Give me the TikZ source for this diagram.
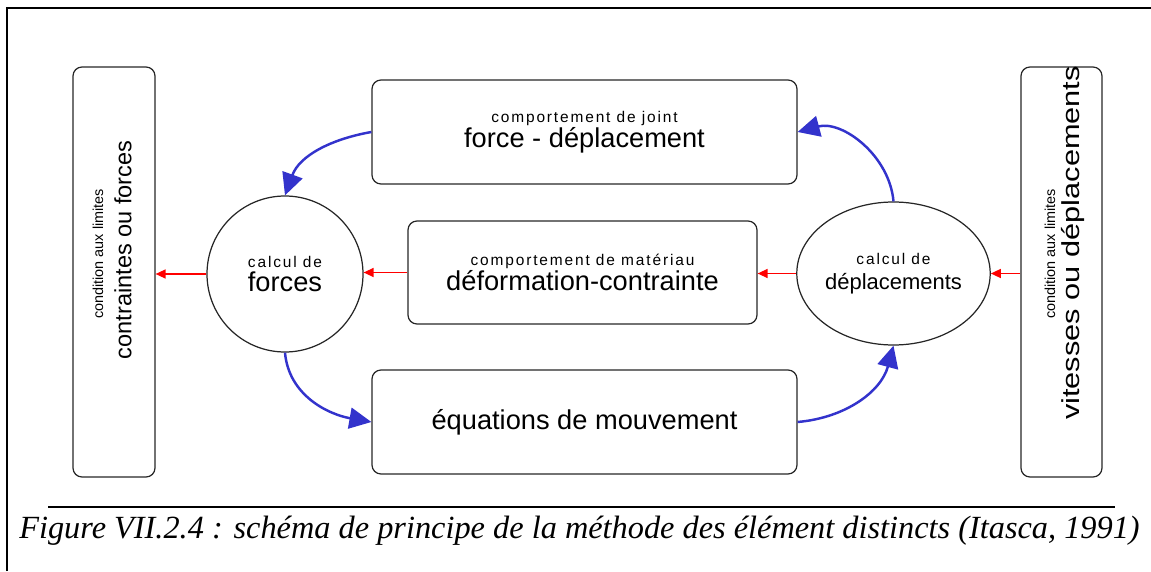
\documentclass[tikz,border=0pt]{standalone}
\usepackage{fontspec}
\setmainfont{Liberation Sans}
\newfontfamily\capfont{Liberation Serif}
\newfontfamily\smallfont[LetterSpace=12]{Liberation Sans}
\usetikzlibrary{arrows.meta, shapes.geometric}
\definecolor{flowblue}{RGB}{51,51,204}
\newcommand{\petit}[1]{{\smallfont\fontsize{8.8}{10}\selectfont #1}}
\newcommand{\grand}[1]{{\fontsize{15.5}{18}\selectfont #1}}

\begin{document}
\begin{tikzpicture}[>={Triangle[length=4.4mm,width=4.2mm]}, line width=0.7pt,
  box/.style={draw=black!85, rounded corners=0.18cm, align=center, inner sep=0pt,
    font=\fontsize{15.5}{14}\selectfont},
  rond/.style={draw=black!85, circle, minimum size=3.12cm, inner sep=0pt, align=center,
    font=\fontsize{15.5}{14}\selectfont},
  flow/.style={->, draw=flowblue, line width=1.4pt},
  feed/.style={-{Triangle[length=2mm,width=1.8mm]}, draw=red, line width=0.8pt}]
  \useasboundingbox (0,0) rectangle (23.02,11.42);
  % ===== cadre =====
  \draw[line width=0.8pt] (0.14,0) -- (0.14,11.26) -- (23.02,11.26);
  % ===== conditions aux limites =====
  \node[box, minimum width=1.64cm, minimum height=8.2cm] (limforces) at (2.28,5.98) {};
  \node[rotate=90, font=\fontsize{8.2}{10}\selectfont] (limfpetit) at (1.96,6.34) {condition aux limites};
  \node[rotate=90, font=\fontsize{13.4}{16}\selectfont] (limfgrand) at (2.46,6.42) {contraintes ou forces};
  \node[box, minimum width=1.62cm, minimum height=8.2cm] (limdepl) at (21.23,5.98) {};
  \node[rotate=90, font=\fontsize{8.2}{10}\selectfont] (limdpetit) at (21.0,6.34) {condition aux limites};
  \node[rotate=90, font=\fontsize{14}{16}\selectfont] (limdgrand) at (21.46,6.56) {\scalebox{1.25}[1]{vitesses ou déplacements}};
  % ===== boites centrales =====
  \node[box, minimum width=8.5cm, minimum height=2.08cm] (joint) at (11.69,8.78)
    {\petit{comportement de joint}\\\grand{force - déplacement}};
  \node[box, minimum width=6.98cm, minimum height=2.06cm] (materiau) at (11.65,5.97)
    {\petit{comportement de matériau}\\\grand{déformation-contrainte}};
  \node[box, minimum width=8.5cm, minimum height=2.08cm] (mouvement) at (11.69,2.98)
    {\grand{équations de mouvement}};
  % ===== calculs =====
  \node[rond] (forces) at (5.70,5.94) {\petit{calcul de}\\\grand{forces}};
  \node[rond, ellipse, minimum width=3.14cm, minimum height=2.86cm] (depl) at (17.87,5.95)
    {\petit{calcul de}\\{\fontsize{12.5}{14}\selectfont déplacements}};
  % ===== fleches =====
  \draw[feed] (forces.west) -- (forces.west -| limforces.east);
  \draw[feed] (materiau.west) -- (materiau.west -| forces.east);
  \draw[feed] (depl.west) -- (depl.west -| materiau.east);
  \draw[feed] (limdepl.west |- depl.east) -- (depl.east);
  \draw[flow] (joint.west) to[out=190, in=70] (forces.north);
  \draw[flow] (depl.north) to[out=95, in=15] (joint.east);
  \draw[flow] (forces.south) to[out=-85, in=170] (mouvement.west);
  \draw[flow] (mouvement.east) to[out=5, in=-105] (depl.south);
  % ===== legende =====
  \draw[line width=1.1pt] (0.96,1.28) -- (22.3,1.28);
  \node[anchor=base, font=\capfont\itshape\fontsize{18.4}{22}\selectfont] (legende) at (11.59,0.66)
    {Figure VII.2.4 : schéma de principe de la méthode des élément distincts (Itasca, 1991)};
\end{tikzpicture}
\end{document}
